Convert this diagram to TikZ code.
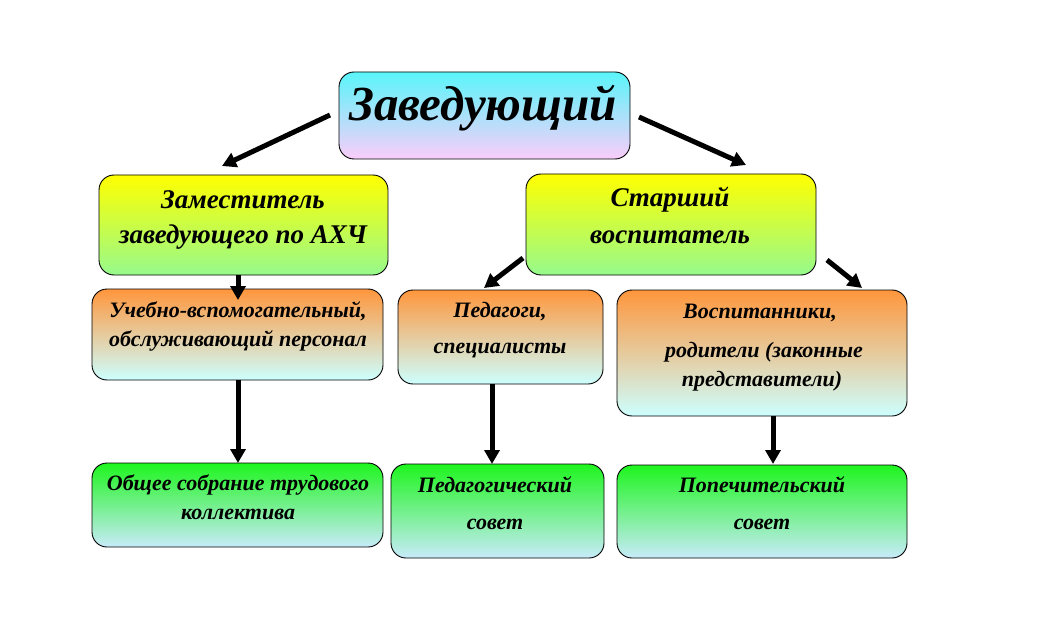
\documentclass[tikz,border=0pt]{standalone}
\usepackage{fontspec}
\setmainfont[Script=Cyrillic,Language=Russian]{Liberation Serif}
\usetikzlibrary{arrows.meta}
\definecolor{cyanT}{RGB}{90,245,250}
\definecolor{pinkB}{RGB}{250,205,250}
\definecolor{yelT}{RGB}{255,255,0}
\definecolor{grnB}{RGB}{150,250,140}
\definecolor{orgT}{RGB}{255,150,60}
\definecolor{cyaB}{RGB}{205,255,255}
\definecolor{grnT}{RGB}{30,245,30}
\definecolor{bluB}{RGB}{200,235,250}
\tikzset{
  box/.style={draw=black, line width=0.9pt, rounded corners=15pt, inner sep=0pt},
  topbox/.style={box, top color=cyanT, bottom color=pinkB},
  yelbox/.style={box, top color=yelT, bottom color=grnB},
  orgbox/.style={box, top color=orgT, bottom color=cyaB},
  grnbox/.style={box, top color=grnT, bottom color=bluB},
  lbl/.style={font=\bfseries\itshape, text=black, inner sep=0pt},
  big/.style={lbl, font=\fontsize{49}{50}\selectfont\bfseries\itshape},
  mid/.style={lbl, font=\fontsize{27}{30}\selectfont\bfseries\itshape},
  sml/.style={lbl, font=\fontsize{22}{24}\selectfont\bfseries\itshape},
  arr/.style={line width=5pt, -{Triangle[length=14pt,width=15pt]}}
}
\begin{document}
\begin{tikzpicture}[x=1pt,y=-1pt]
\useasboundingbox (0,0) rectangle (1040,636);
% boxes
\node[topbox, minimum width=291pt, minimum height=87pt] (top) at (484.5,115.5) {};
\node[yelbox, minimum width=289pt, minimum height=100pt] (zam) at (243.5,225) {};
\node[yelbox, minimum width=290pt, minimum height=101pt] (star) at (671,224.5) {};
\node[orgbox, minimum width=291pt, minimum height=91pt] (ucheb) at (237.5,334.5) {};
\node[orgbox, minimum width=205pt, minimum height=94pt] (ped) at (500.5,337) {};
\node[orgbox, minimum width=290pt, minimum height=126pt] (vosp) at (762,353) {};
\node[grnbox, minimum width=291pt, minimum height=84pt] (obsh) at (237.5,505) {};
\node[grnbox, minimum width=213pt, minimum height=94pt] (pedsov) at (497.5,511) {};
\node[grnbox, minimum width=290pt, minimum height=93pt] (popech) at (762,511.5) {};
% texts
\node[big] (t0) at (483,108) {Заведующий};
\node[mid] (t1a) at (243,200) {Заместитель};
\node[mid] (t1b) at (243,237) {заведующего по АХЧ};
\node[mid] (t2a) at (670,200) {Старший};
\node[mid] (t2b) at (670,237) {воспитатель};
\node[sml] (t3a) at (238,311) {Учебно-вспомогательный,};
\node[sml] (t3b) at (238,341) {обслуживающий персонал};
\node[sml] (t4a) at (500,312) {Педагоги,};
\node[sml] (t4b) at (500,351) {специалисты};
\node[sml] (t5a) at (760,313) {Воспитанники,};
\node[sml] (t5b) at (764,352) {родители (законные};
\node[sml] (t5c) at (762,381) {представители)};
\node[sml] (t6a) at (238,485) {Общее собрание трудового};
\node[sml] (t6b) at (238,514) {коллектива};
\node[sml] (t7a) at (495,485) {Педагогический};
\node[sml] (t7b) at (495,524) {совет};
\node[sml] (t8a) at (762,485) {Попечительский};
\node[sml] (t8b) at (762,524) {совет};
% connector end points
\coordinate (a1s) at (330,115);
\coordinate (a1e) at (222,166);
\coordinate (a2s) at (639,117);
\coordinate (a2e) at (746,165);
\coordinate (a3s) at (238,275);
\coordinate (a3e) at (238,300);
\coordinate (a4s) at (238,380);
\coordinate (a4e) at (238,463);
\coordinate (a5s) at (523,258);
\coordinate (a5e) at (484,288);
\coordinate (a6s) at (827,260);
\coordinate (a6e) at (862,288);
\coordinate (a7s) at (492,384);
\coordinate (a7e) at (492,464);
\coordinate (a8s) at (773,416);
\coordinate (a8e) at (773,464);
\draw[arr] (a1s) -- (a1e);
\draw[arr] (a2s) -- (a2e);
\draw[arr] (a3s) -- (a3e);
\draw[arr] (a4s) -- (a4e);
\draw[arr] (a5s) -- (a5e);
\draw[arr] (a6s) -- (a6e);
\draw[arr] (a7s) -- (a7e);
\draw[arr] (a8s) -- (a8e);
\end{tikzpicture}
\end{document}
